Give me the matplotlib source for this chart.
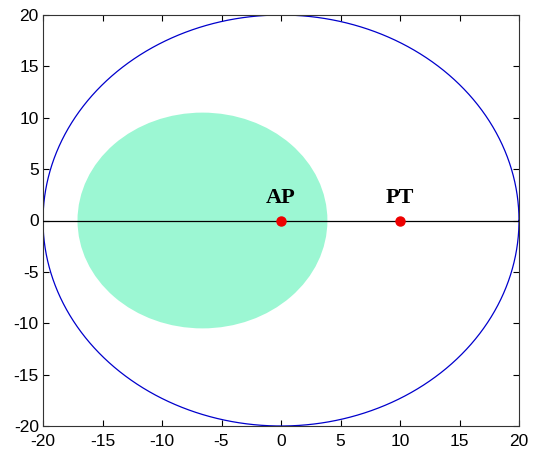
import numpy as np
import matplotlib
matplotlib.use("Agg")
import matplotlib.pyplot as plt
from matplotlib.patches import Ellipse

plt.rcParams["axes.unicode_minus"] = False

# Data
outer_center = (0, 0)
outer_radius = 20
zone_center = (-6.6, 0)
zone_radius = 10.5
point_names = ["AP", "PT"]
point_x = [0, 10]
point_y = [0, 0]
xticks = [-20, -15, -10, -5, 0, 5, 10, 15, 20]
yticks = [-20, -15, -10, -5, 0, 5, 10, 15, 20]

fig = plt.figure(figsize=(5.35, 4.51), dpi=100)
ax = fig.add_axes([43/535, 1-426/451, (519-43)/535, (426-15)/451])

ax.add_patch(Ellipse(zone_center, 2*zone_radius, 2*zone_radius, facecolor="#9cf7d3", edgecolor="none", zorder=1))
t = np.linspace(0, 2*np.pi, 400)
ax.plot(outer_center[0] + outer_radius*np.cos(t), outer_center[1] + outer_radius*np.sin(t), color="#0000cc", lw=0.9, zorder=2)
ax.plot([-20, 20], [0, 0], color="black", lw=0.9, zorder=3)
ax.plot(point_x, point_y, 'o', color="#ee0000", markersize=6.5, zorder=4)
for n, x, y in zip(point_names, point_x, point_y):
    ax.text(x, y + 1.2, n, ha="center", va="bottom", fontsize=16, fontweight="bold",
            family="Liberation Serif", zorder=5)

ax.set_xlim(-20, 20)
ax.set_ylim(-20, 20)
ax.set_xticks(xticks)
ax.set_yticks(yticks)
ax.tick_params(direction="in", top=True, right=True, labelsize=12.5, length=4, width=0.8, pad=3)
ax.tick_params(axis="x", pad=6)
for lab in ax.get_xticklabels() + ax.get_yticklabels():
    lab.set_family("Liberation Sans")
for s in ax.spines.values():
    s.set_linewidth(0.8)
    s.set_color("#333333")

fig.savefig("out.png", dpi=100)
